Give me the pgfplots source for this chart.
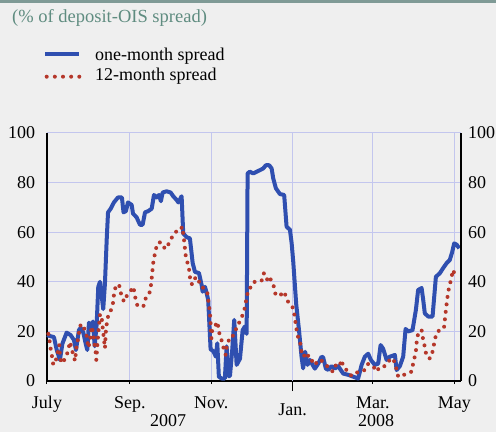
\documentclass[border=0pt]{standalone}
\usepackage{fontspec}
\setmainfont{Liberation Serif}
\usepackage{pgfplots}
\pgfplotsset{compat=1.18}
\definecolor{bgc}{HTML}{EFEFEF}
\definecolor{rulec}{HTML}{7F9A96}
\definecolor{titlec}{HTML}{5F8C80}
\definecolor{onemonth}{HTML}{2F4FB0}
\definecolor{twelvemonth}{HTML}{B5372A}
\definecolor{gridc}{HTML}{C3C6EE}

% x = days since 1 July 2007
\pgfplotsset{
  spreadaxis/.style={
    at={(47bp,51bp)}, anchor=south west,
    scale only axis, width=414bp, height=248bp,
    xmin=0, xmax=310, ymin=0, ymax=100,
    ytick={0,20,...,100},
    axis line style={black, line width=1.2bp},
    tick label style={font=\fontsize{18bp}{20bp}\selectfont},
    /pgf/number format/assume math mode=true,
    ytick style={draw=none},
  }
}

\begin{document}
\begin{tikzpicture}
\fill[bgc] (0bp,0bp) rectangle (496bp,432bp);
\fill[rulec] (0bp,429bp) rectangle (496bp,432bp);
\node[anchor=base west, inner sep=0pt, text=titlec, font=\fontsize{18.5bp}{20bp}\selectfont]
  at (12bp,409.3bp) {(\% of deposit-OIS spread)};

% legend
\draw[onemonth, line width=4bp] (45bp,378bp) -- (79bp,378bp);
\node[anchor=base west, inner sep=0pt, font=\fontsize{18bp}{20bp}\selectfont]
  at (95bp,371bp) {one-month spread};
\draw[twelvemonth, line width=4bp, line cap=round, dash pattern=on 0bp off 8.15bp]
  (46.7bp,355.3bp) -- (79.3bp,355.3bp);
\node[anchor=base west, inner sep=0pt, font=\fontsize{18bp}{20bp}\selectfont]
  at (95bp,351bp) {12-month spread};

\begin{axis}[
  spreadaxis,
  axis x line*=bottom, axis y line*=left,
  xtick={0,62,123,244,305},
  xticklabels={July,Sep.,Nov.,Mar.,May},
  extra x ticks={184}, extra x tick labels={Jan.},
  extra x tick style={grid=major, major tick length=10bp},
  grid=major, grid style={gridc, line width=1bp},
  tick align=outside, major tick length=3bp,
  x tick style={black, line width=1bp},
  xticklabel style={anchor=base, yshift=-24bp},
  yticklabel style={anchor=east, inner sep=0pt, xshift=-8.7bp},
  clip=false,
]
\addplot[onemonth, line width=4bp, line join=round] coordinates {
(0,18.5)(3,18)(5.2,17.7)(7.3,12.5)(9.7,8.5)(11.5,15)(14.7,19.5)(17.7,18.5)(20.2,16.5)
(21.7,12.5)(23.9,20.5)(25.2,21.5)(27.2,19.5)(29,15)(30.2,12.5)(31.4,23.5)(33.2,21.5)
(34.4,24)(35.7,14)(37.2,23)(38.4,38)(39.7,40)(42.1,29)(43.4,39.5)(44.7,57)(45.7,68)
(47.7,69.5)(50.1,72)(53.1,74)(56.1,74)(57.3,68)(59.1,68.5)(60.6,72)(63.4,71)(64.4,67.5)
(67.1,66)(69.6,63)(71.6,63)(73.4,68)(75.8,68.5)(78.4,69.5)(80.1,75)(82.1,74)(83.8,75)
(85.3,72.5)(86.6,76)(89.6,76.5)(92.6,76)(94.5,74.5)(97.1,73)(98.3,72)(100.8,74.5)
(102,59.5)(104.6,58)(107,57.5)(109.1,47.5)(110.8,44)(113.8,43.5)(115.8,38.7)(116.5,36)
(118.3,38)(119.5,35.5)(120.7,32.7)(122.5,12.8)(124.5,12)(126.5,9.8)(127.5,15.2)
(128.7,1.7)(130.8,1)(133.2,1)(134.5,14)(135.7,2)(137,2)(138.7,12.5)(140.2,24.6)
(142,6.5)(144.5,9)(146.5,20.5)(148.2,22)(149.5,19)(150.2,83.7)(151.9,84.4)(154.4,83.7)
(157,84.4)(159.4,85)(161.9,85.7)(163.9,87)(166.4,87)(168.2,85.7)(169.4,81.7)(171.4,77.7)
(174.4,75.4)(177.6,75)(179.4,62.2)(181.9,61)(183.2,55.5)(184.4,48)(186.6,31)(188.6,21)
(190.6,9.8)(191.8,5.1)(193.3,11.8)(195.1,6.5)(196.9,8.5)(198.9,6.5)(200.6,5)(203.1,7)
(205.6,9.8)(206.8,9.5)(208.8,5)(210.6,4.5)(213.1,6)(215.6,5)(218,6)(221.8,3)(225.5,2.5)
(233,1)(235.6,6.5)(238,9.8)(240.5,11)(242.5,8.5)(245.5,6.5)(248,7)(249.8,14.5)
(251.7,13)(254.3,8.5)(256.7,9.8)(260.5,10.5)(261.8,4.4)(264.2,6)(266.7,9.8)(268.5,21)
(270.4,20)(273.7,20.5)(276.2,28.6)(277.9,36.7)(280.5,37.5)(281.7,32.7)(282.9,27.3)
(285.4,26)(288.7,26)(291.2,42)(294.2,43.5)(296.6,45.5)(299.2,47.5)(301.6,48.8)
(303.4,52)(304.9,55.5)(306.7,55)(308.7,53.5)
};
\addplot[twelvemonth, line width=4bp, line cap=round, line join=round,
  dash pattern=on 0bp off 7.5bp] coordinates {
(1,19)(2,16)(2.8,12.8)(3.9,9.5)(4.7,6.5)(6.7,8.5)(9.2,14.5)(9.7,10.1)(11,7.1)(14.2,9.4)
(15.9,12.5)(17.2,15.8)(19.7,10.5)(21,8.1)(22.2,14.5)(23.4,17.2)(24.2,20.6)(25.4,23)
(27.2,22)(29.2,19.5)(30.2,16.5)(30.9,13.4)(32.2,16.1)(33.4,22)(34.7,19.2)(35.4,15.4)
(36.5,11.4)(36.9,8.5)(38,16.8)(39.2,23.9)(39.7,27)(41,25.3)(42.1,19.5)(43.4,13.2)
(44.2,21.2)(45.9,26.6)(47.2,27.3)(49.7,32)(50.2,35.4)(51.4,38)(53.9,39)(55.2,35.6)
(57.6,32)(60.1,34.7)(63.1,36.7)(64.6,38)(65.6,35.4)(66.4,32.7)(67.6,30.6)(69.6,30)
(72.1,30)(73.9,33.3)(76.3,34.7)(77.6,37.4)(78.4,41.4)(78.8,43.4)(79.3,46.8)(80.1,49.5)
(81.4,52.8)(82.6,55.5)(85.1,56)(87.1,54.2)(88.8,53.2)(91.3,55.5)(93.8,58.2)(96.3,60.2)
(98.8,60.2)(101.3,62.2)(102.5,57.5)(103.8,50.8)(105,48.1)(106.3,45.4)(107,42)(108,39.1)
(109.5,39.1)(111.3,42)(112.5,41.4)(114.5,39.4)(115.5,38)(117.5,37.4)(118.8,36.7)(120,36)
(120.5,33.3)(121.3,30.6)(122,27.3)(122.5,23.5)(122.7,20.6)(123.1,17.2)(123.7,20.6)
(126.3,22.6)(127.5,23.9)(128.2,21.9)(129.5,17.9)(131.2,15.8)(132.5,12.5)(133.8,10.5)
(134.5,13.8)(136.2,16.5)(137.9,16.5)(139.4,18.5)(140.7,20.6)(142.4,21.2)(143.7,23.3)
(145.4,25.3)(147.5,27.9)(148.7,31.3)(149.9,34.7)(151.2,37.4)(153.7,38)(155.5,40)
(158.7,40)(161.2,40.7)(162.4,43.4)(164.4,42.7)(164.9,40.7)(166.2,42)(168.6,40)(169.9,38)
(171.2,34.7)(172.9,34.4)(174.4,34.4)(176.1,35.4)(177.9,36)(178.7,34)(179.9,32.7)
(181.1,31.3)(183.6,30)(184.9,28.6)(185.4,25.9)(186.2,23.3)(186.9,20.6)(187.9,17.9)
(189.4,16.5)(189.9,13.8)(191.1,10.5)(192.4,9.8)(193.1,11.2)(194.8,11.2)(195.6,10.1)
(197.8,9.8)(198.9,7.1)(200.6,6.5)(203.1,8.5)(205.6,8.2)(209.8,6)(211.8,4.4)(214.3,3.8)
(216.8,7.1)(219.3,6.5)(220.6,8.5)(221.8,5.8)(224.3,4.4)(226.8,2.4)(229.3,2.1)(233,3.8)
(238,4.4)(240.5,6.9)(244.2,6)(246.8,3.8)(249.3,5.8)(253,6)(256.7,8.5)(259.2,9.1)
(261.2,5.8)(263,1.7)(266.7,2.4)(269.2,2.8)(273,3.8)(274.2,7.1)(276.2,11.8)(276.7,15.2)
(277.9,19.2)(280.5,20.6)(281.7,16.5)(282.9,13.8)(284.2,9.8)(286.7,9.1)(287.9,9.8)
(289.2,13.2)(290.4,16.5)(291.7,19.5)(294.2,20.6)(297.2,21.2)(297.9,24.6)(298.7,28.6)
(299.6,32.7)(300.4,36)(301.6,38.7)(302.9,42)(304.1,44.8)(305.4,42.7)(308.3,43.4)
};
\end{axis}

\begin{axis}[
  spreadaxis,
  axis y line*=right, axis x line=none,
  yticklabel pos=right,
  yticklabel style={anchor=west, inner sep=0pt, xshift=7bp},
]
\end{axis}

% year labels under the month labels
\node[anchor=base, inner sep=0pt, font=\fontsize{18bp}{20bp}\selectfont] at (168bp,6bp) {2007};
\node[anchor=base, inner sep=0pt, font=\fontsize{18bp}{20bp}\selectfont] at (376bp,6bp) {2008};

\pgfresetboundingbox
\useasboundingbox (0bp,0bp) rectangle (496bp,432bp);
\end{tikzpicture}
\end{document}
